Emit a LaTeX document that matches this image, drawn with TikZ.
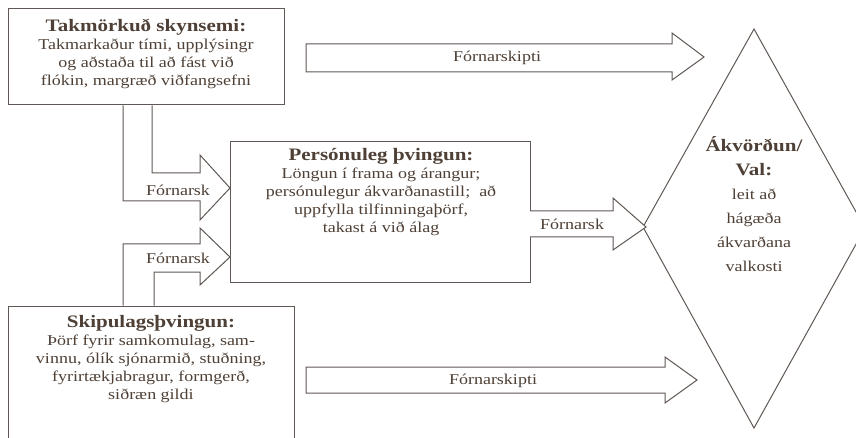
\documentclass[tikz,border=0pt]{standalone}
\usepackage{fontspec}
\setmainfont{Liberation Serif}[FakeStretch=1.2]
\definecolor{linec}{RGB}{96,88,84}
\definecolor{textc}{RGB}{78,64,54}
\tikzset{
  shp/.style={draw=linec, line width=1pt, line join=miter, fill=white},
  box/.style={shp, rectangle, inner sep=0pt},
  btxt/.style={text=textc, align=center, inner sep=0pt, font=\fontsize{15}{18}\selectfont},
  dtxt/.style={text=textc, align=center, inner sep=0pt, font=\fontsize{15}{24}\selectfont},
  lbl/.style={text=textc, inner sep=0pt, font=\fontsize{15}{18}\selectfont},
}
\newcommand{\ttl}[1]{{\fontsize{17.5}{20}\selectfont\bfseries #1}}
\begin{document}
\begin{tikzpicture}[x=1pt, y=-1pt]
\useasboundingbox (0,0) rectangle (856,438);
\clip (0,0) rectangle (856,438);
% boxes
\node[box, minimum width=276pt, minimum height=96pt] (tb) at (146,57) {};
\node[box, minimum width=300pt, minimum height=140pt] (mb) at (380,212) {};
\node[box, minimum width=286pt, minimum height=160pt] (bb) at (151,386) {};
% diamond
\draw[shp] (754,29) coordinate (dtop) -- (865,228) coordinate (dright) -- (754,428) coordinate (dbot) -- (643,227) coordinate (dleft) -- cycle;
% top straight arrow
\draw[shp] (306,44) -- (672,44) -- (672,33) -- (704,57) -- (672,80) -- (672,72) -- (306,72) -- cycle;
\node[lbl] (l1) at (497,58) {Fórnarskipti};
% bottom straight arrow
\draw[shp] (306,367) -- (665,367) -- (665,357) -- (697,380) -- (665,403) -- (665,393) -- (306,393) -- cycle;
\node[lbl] (l2) at (493,381) {Fórnarskipti};
% middle arrow
\draw[shp] (530,211) -- (613,211) -- (613,198) -- (646,227) -- (613,250) -- (613,237) -- (530,237);
\node[lbl] (l3) at (572,224) {Fórnarsk};
% upper bent arrow
\draw[shp] (152,105.5) -- (152,173) -- (200,173) -- (200,155) -- (230,188) -- (200,220) -- (200,201) -- (123,201) -- (123,105.5);
\node[lbl] (l4) at (178,190) {Fórnarsk};
% lower bent arrow
\draw[shp] (123,305.5) -- (123,244) -- (200,244) -- (200,228) -- (230,257) -- (200,285) -- (200,272) -- (154,272) -- (154,305.5);
\node[lbl] (l5) at (178,258) {Fórnarsk};
% texts
\node[btxt] (tbt) at (146,54) {\ttl{Takmörkuð skynsemi:}\\Takmarkaður tími, upplýsingr\\og aðstaða til að fást við\\flókin, margræð viðfangsefni};
\node[btxt] (mbt) at (381,192) {\ttl{Persónuleg þvingun:}\\Löngun í frama og árangur;\\persónulegur ákvarðanastill;\ \ að\\uppfylla tilfinningaþörf,\\takast á við álag};
\node[btxt] (bbt) at (151,359) {\ttl{Skipulagsþvingun:}\\Þörf fyrir samkomulag, sam-\\vinnu, ólík sjónarmið, stuðning,\\fyrirtækjabragur, formgerð,\\siðræn gildi};
\node[dtxt] (dt) at (754,204) {\ttl{Ákvörðun/}\\\ttl{Val:}\\leit að\\hágæða\\ákvarðana\\valkosti};
\end{tikzpicture}
\end{document}
